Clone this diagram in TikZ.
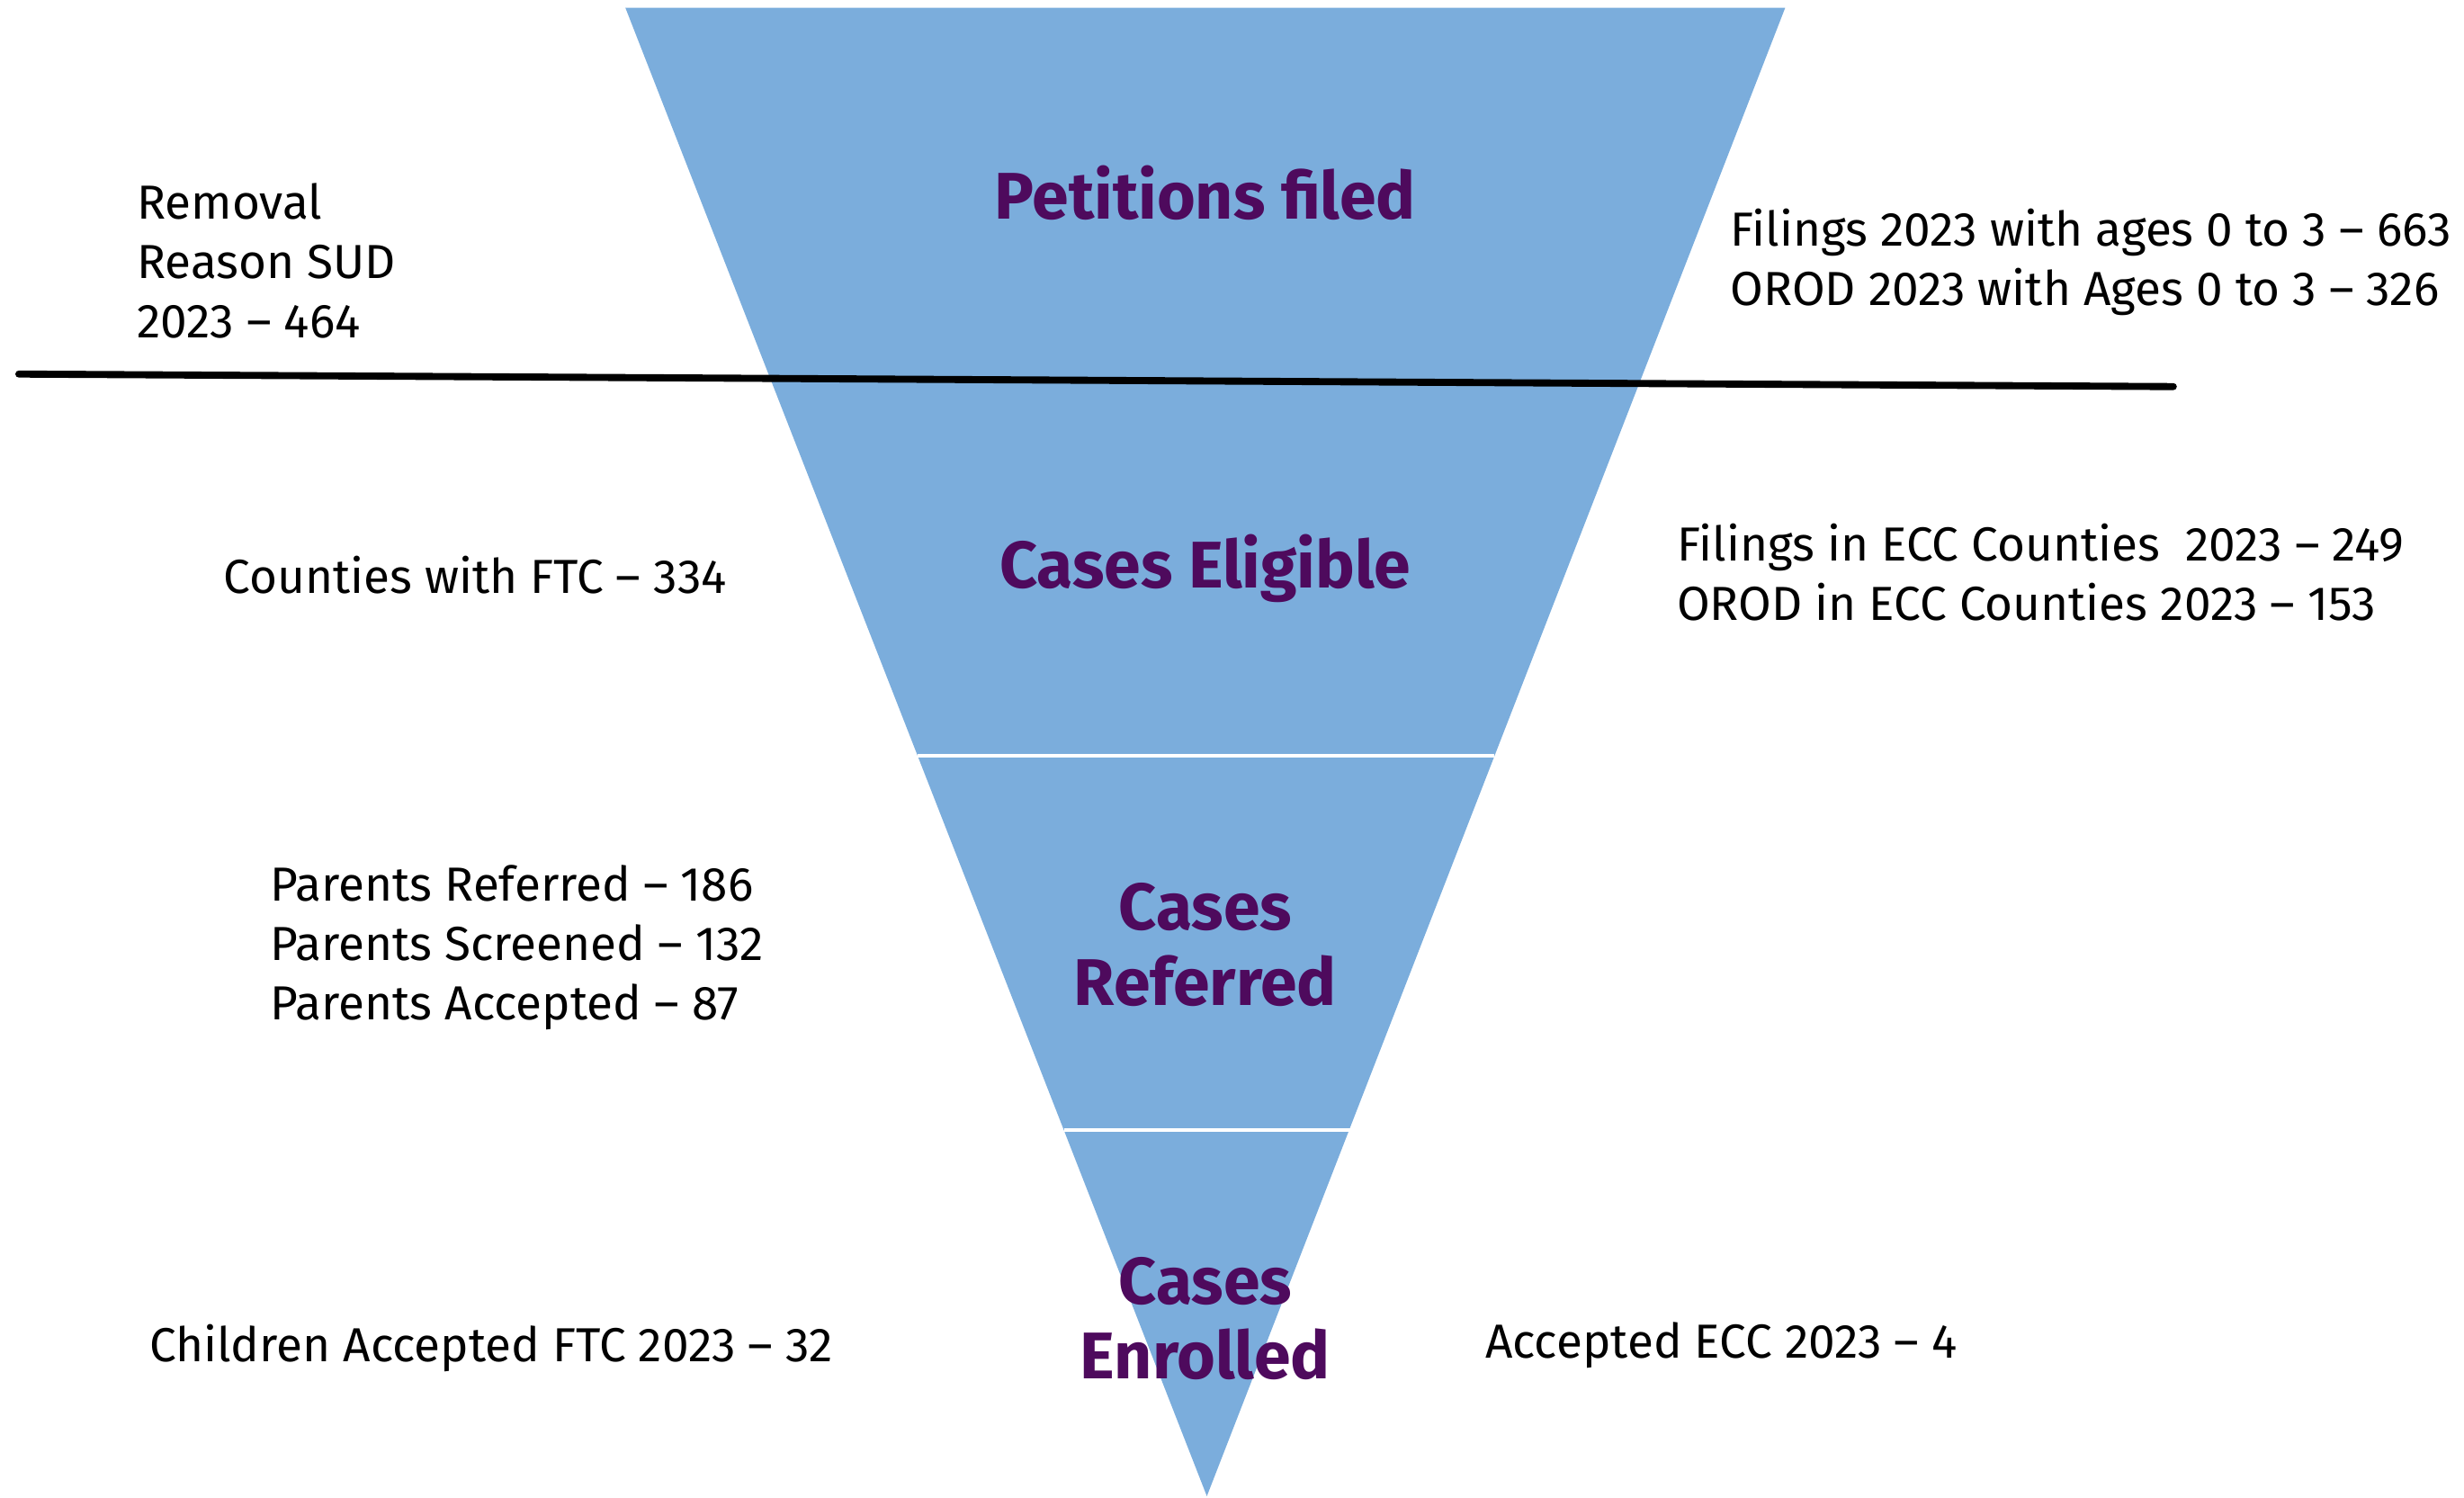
\documentclass[tikz,border=0pt]{standalone}
\usepackage{fontspec}
\setmainfont{Fira Sans}
\definecolor{funnelblue}{HTML}{7BADDC}
\definecolor{titlepurple}{HTML}{4E0A5D}
\begin{document}
\begin{tikzpicture}[x=1pt,y=-1pt,
  title/.style={font=\fontsize{42}{48}\selectfont\bfseries, text=titlepurple, align=center, inner sep=0pt},
  lbl/.style={font=\fontsize{30.4}{38}\selectfont, text=black, align=left, anchor=west, inner sep=0pt},
  sep/.style={draw=white, line width=2pt},
  rule/.style={draw=black, line width=4.5pt, line cap=round}]
\useasboundingbox (0,0) rectangle (1568,953);
% funnel
\coordinate (TL) at (398,5);
\coordinate (TR) at (1136,5);
\coordinate (AP) at (768,952);
\fill[funnelblue] (TL) -- (TR) -- (AP) -- cycle;
% separators
\coordinate (s1l) at (584,481);
\coordinate (s1r) at (951,481);
\coordinate (s2l) at (677,719);
\coordinate (s2r) at (859,719);
\draw[sep] (s1l) -- (s1r);
\draw[sep] (s2l) -- (s2r);
% black rule
\coordinate (r1) at (12,238);
\coordinate (r2) at (1383,246);
\draw[rule] (r1) -- (r2);
% titles
\node[title] (t1) at (767,123) {Petitions filed};
\node[title] (t2) at (767,362) {Cases Eligible};
\node[title] (t3) at (767,601) {Cases\\Referred};
\node[title] (t4) at (767,839) {Cases\\Enrolled};
% left labels
\node[lbl] (l1) at (87,166) {Removal\\Reason SUD\\2023 – 464};
\node[lbl] (l2) at (142,366) {Counties with FTC – 334};
\node[lbl] (l3) at (172,603) {Parents Referred – 186\\Parents Screened – 132\\Parents Accepted – 87};
\node[lbl] (l4) at (95,858) {Children Accepted FTC 2023 – 32};
% right labels
\node[lbl] (r1t) at (1101,167) {Filings 2023 with ages 0 to 3 – 663\\OROD 2023 with Ages 0 to 3 – 326};
\node[lbl] (r2t) at (1067,364) {Filings in ECC Counties~ 2023 – 249\\OROD in ECC Counties 2023 – 153};
\node[lbl] (r3t) at (945,856) {Accepted ECC 2023 – 4};
\end{tikzpicture}
\end{document}
